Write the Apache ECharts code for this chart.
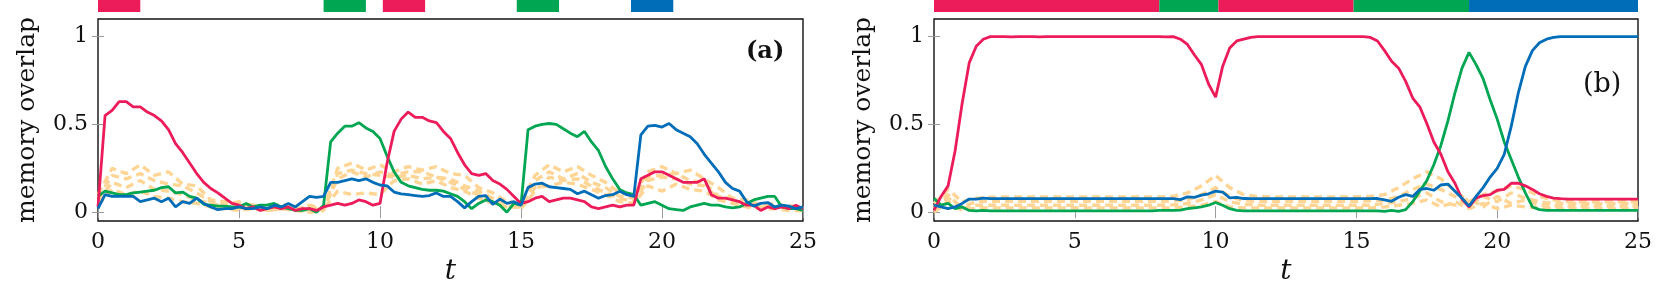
<!DOCTYPE html>
<html>
<head>
<meta charset="utf-8">
<script src="https://cdn.jsdelivr.net/npm/echarts@6/dist/echarts.min.js"></script>
<style>html,body{margin:0;padding:0;background:#fff}#c{width:1661px;height:295px}</style>
</head>
<body>
<div id="c"></div>
<script>
// ---------- data ----------
const X_TICKS = [0, 5, 10, 15, 20, 25];
const Y_TICKS = [0, 0.5, 1];
// time grid for main lines (step 0.25) and for the light dashed lines (step 0.5)
const T_MAIN = Array.from({length: 101}, (_, i) => i * 0.25);
const T_DASH = Array.from({length: 51}, (_, i) => i * 0.5);

// panel (a)
const A_RED = [
  0.03,0.55,0.58,0.63,0.63,0.60,0.60,0.57,0.55,0.52,
  0.47,0.39,0.34,0.28,0.22,0.17,0.135,0.11,0.08,0.05,
  0.04,0.02,0.03,0.01,0.02,0.03,0.02,0.03,0.01,0.02,
  0.02,0.01,0.03,0.04,0.05,0.04,0.05,0.07,0.06,0.04,
  0.05,0.28,0.46,0.53,0.57,0.54,0.54,0.52,0.51,0.46,
  0.42,0.34,0.27,0.22,0.21,0.22,0.18,0.16,0.13,0.09,
  0.05,0.06,0.08,0.09,0.06,0.07,0.08,0.08,0.07,0.06,
  0.03,0.02,0.03,0.04,0.03,0.04,0.04,0.19,0.21,0.23,
  0.23,0.21,0.19,0.17,0.17,0.17,0.19,0.10,0.08,0.08,
  0.07,0.06,0.04,0.04,0.01,0.03,0.02,0.03,0.02,0.04,
  0.02];
const A_GREEN = [
  0.09,0.12,0.11,0.10,0.10,0.11,0.115,0.12,0.125,0.14,
  0.145,0.11,0.115,0.09,0.08,0.045,0.04,0.035,0.035,0.03,
  0.03,0.05,0.03,0.04,0.04,0.05,0.03,0.02,0.01,0.01,
  0.02,0.0,0.04,0.40,0.45,0.49,0.49,0.51,0.48,0.46,
  0.42,0.32,0.23,0.17,0.15,0.14,0.13,0.125,0.125,0.12,
  0.105,0.09,0.06,0.02,0.05,0.07,0.06,0.04,0.0,0.05,
  0.04,0.47,0.49,0.50,0.505,0.50,0.475,0.45,0.43,0.46,
  0.40,0.35,0.26,0.19,0.13,0.11,0.10,0.04,0.05,0.06,
  0.04,0.02,0.015,0.01,0.03,0.04,0.05,0.04,0.04,0.03,
  0.025,0.03,0.05,0.07,0.08,0.09,0.09,0.03,0.02,0.02,
  0.01];
const A_BLUE = [
  0.02,0.10,0.09,0.09,0.09,0.09,0.06,0.07,0.08,0.06,
  0.08,0.03,0.06,0.05,0.08,0.05,0.03,0.015,0.02,0.02,
  0.03,0.02,0.02,0.03,0.02,0.04,0.03,0.05,0.03,0.06,
  0.09,0.085,0.09,0.17,0.17,0.18,0.19,0.18,0.19,0.17,
  0.155,0.15,0.115,0.105,0.10,0.095,0.09,0.095,0.11,0.09,
  0.09,0.06,0.025,0.06,0.09,0.095,0.045,0.075,0.05,0.06,
  0.04,0.14,0.16,0.165,0.145,0.14,0.135,0.13,0.105,0.12,
  0.10,0.08,0.095,0.10,0.12,0.10,0.09,0.44,0.49,0.495,
  0.485,0.505,0.47,0.45,0.43,0.39,0.33,0.28,0.23,0.17,
  0.135,0.12,0.06,0.035,0.05,0.055,0.03,0.04,0.035,0.02,
  0.03];
const A_DASH1 = [
  0.10,0.25,0.22,0.27,0.21,0.23,0.16,0.15,0.07,0.06,
  0.05,0.04,0.02,0.05,0.02,0.03,0.02,0.25,0.28,0.24,
  0.27,0.23,0.26,0.24,0.26,0.22,0.21,0.14,0.11,0.06,
  0.05,0.21,0.27,0.23,0.26,0.21,0.17,0.11,0.10,0.23,
  0.26,0.22,0.24,0.19,0.14,0.08,0.07,0.04,0.05,0.03,
  0.03];
const A_DASH2 = [
  0.08,0.21,0.19,0.22,0.18,0.16,0.15,0.11,0.06,0.04,
  0.06,0.02,0.04,0.03,0.01,0.04,0.02,0.19,0.23,0.20,
  0.23,0.21,0.23,0.23,0.20,0.19,0.15,0.12,0.08,0.05,
  0.04,0.18,0.23,0.19,0.22,0.17,0.14,0.09,0.08,0.20,
  0.21,0.22,0.18,0.17,0.09,0.08,0.04,0.04,0.03,0.04,
  0.02];
const A_DASH3 = [
  0.06,0.17,0.14,0.18,0.13,0.12,0.10,0.07,0.05,0.03,
  0.02,0.04,0.01,0.02,0.02,0.01,0.02,0.12,0.10,0.11,
  0.10,0.18,0.19,0.16,0.18,0.14,0.12,0.08,0.05,0.03,
  0.03,0.14,0.15,0.17,0.16,0.13,0.10,0.06,0.05,0.15,
  0.12,0.16,0.13,0.12,0.07,0.05,0.03,0.02,0.02,0.01,
  0.01];
const A_DASH4 = [
  0.04,0.13,0.10,0.12,0.09,0.08,0.06,0.05,0.03,0.02,
  0.01,0.02,0.01,0.02,0.01,0.00,0.01,0.22,0.24,0.22,
  0.21,0.20,0.21,0.19,0.20,0.17,0.13,0.10,0.06,0.04,
  0.02,0.12,0.20,0.18,0.19,0.15,0.11,0.08,0.06,0.18,
  0.20,0.19,0.16,0.15,0.08,0.06,0.04,0.03,0.03,0.02,
  0.02];
// stimulus bars on top of panel (a): [start, end, colour index]
const A_BARS = [[0,1.5,0],[8,9.5,1],[10.1,11.6,0],[14.85,16.35,1],[18.9,20.4,2]];

// panel (b)
const B_RED = [
  0.01,0.09,0.15,0.35,0.62,0.85,0.945,0.985,1.0,1.0,
  1.0,0.998,1.0,1.0,1.0,0.998,1.0,1.0,1.0,1.0,
  1.0,1.0,1.0,1.0,1.0,1.0,1.0,1.0,1.0,1.0,
  1.0,1.0,1.0,0.998,1.0,0.985,0.955,0.895,0.84,0.73,
  0.655,0.83,0.935,0.975,0.985,0.995,1.0,1.0,1.0,1.0,
  1.0,1.0,1.0,1.0,1.0,1.0,1.0,1.0,1.0,1.0,
  1.0,1.0,0.995,0.975,0.92,0.86,0.82,0.745,0.65,0.60,
  0.505,0.40,0.33,0.23,0.165,0.075,0.03,0.08,0.095,0.10,
  0.125,0.13,0.165,0.165,0.15,0.13,0.105,0.09,0.08,0.077,
  0.075,0.075,0.075,0.075,0.075,0.075,0.075,0.075,0.075,0.075,
  0.075];
const B_GREEN = [
  0.08,0.04,0.05,0.02,0.03,0.01,0.008,0.01,0.008,0.008,
  0.008,0.008,0.008,0.008,0.008,0.008,0.008,0.008,0.008,0.008,
  0.008,0.008,0.008,0.008,0.008,0.008,0.008,0.008,0.008,0.008,
  0.008,0.008,0.01,0.01,0.01,0.012,0.02,0.025,0.03,0.04,
  0.055,0.04,0.02,0.01,0.008,0.008,0.008,0.008,0.008,0.008,
  0.008,0.008,0.008,0.008,0.008,0.008,0.008,0.008,0.008,0.008,
  0.008,0.008,0.008,0.008,0.005,0.01,0.005,0.015,0.06,0.12,
  0.18,0.27,0.38,0.52,0.68,0.82,0.91,0.84,0.76,0.64,
  0.53,0.40,0.30,0.20,0.11,0.03,0.015,0.01,0.01,0.01,
  0.01,0.01,0.01,0.01,0.01,0.01,0.01,0.01,0.01,0.01,
  0.01];
const B_BLUE = [
  0.04,0.03,0.02,0.03,0.05,0.075,0.075,0.08,0.077,0.077,
  0.077,0.077,0.077,0.077,0.077,0.077,0.077,0.077,0.077,0.077,
  0.077,0.077,0.077,0.077,0.077,0.077,0.077,0.077,0.077,0.077,
  0.077,0.077,0.077,0.077,0.077,0.072,0.087,0.085,0.097,0.105,
  0.12,0.115,0.082,0.085,0.078,0.077,0.077,0.077,0.077,0.077,
  0.077,0.077,0.077,0.077,0.077,0.077,0.077,0.077,0.077,0.077,
  0.077,0.077,0.077,0.078,0.07,0.062,0.085,0.10,0.09,0.13,
  0.135,0.125,0.155,0.16,0.12,0.08,0.035,0.09,0.14,0.20,
  0.25,0.33,0.49,0.68,0.83,0.92,0.965,0.985,0.995,1.0,
  1.0,1.0,1.0,1.0,1.0,1.0,1.0,1.0,1.0,1.0,
  1.0];
const B_DASH1 = [
  0.05,0.13,0.06,0.08,0.085,0.087,0.087,0.087,0.087,0.087,
  0.087,0.087,0.087,0.087,0.087,0.087,0.087,0.09,0.11,0.15,
  0.21,0.14,0.10,0.09,0.087,0.087,0.087,0.087,0.087,0.087,
  0.088,0.09,0.10,0.14,0.19,0.23,0.19,0.12,0.06,0.10,
  0.12,0.15,0.13,0.09,0.07,0.06,0.06,0.06,0.06,0.06,
  0.06];
const B_DASH2 = [
  0.02,0.08,0.03,0.06,0.062,0.062,0.062,0.062,0.062,0.062,
  0.062,0.062,0.062,0.062,0.062,0.062,0.062,0.065,0.07,0.10,
  0.14,0.09,0.065,0.062,0.062,0.062,0.062,0.062,0.062,0.062,
  0.062,0.065,0.07,0.09,0.13,0.16,0.13,0.09,0.04,0.09,
  0.06,0.11,0.08,0.06,0.05,0.05,0.05,0.05,0.05,0.05,
  0.05];
const B_DASH3 = [
  0.03,0.10,0.02,0.04,0.04,0.04,0.04,0.04,0.04,0.04,
  0.04,0.04,0.04,0.04,0.04,0.04,0.04,0.042,0.05,0.07,
  0.10,0.06,0.045,0.04,0.04,0.04,0.04,0.04,0.04,0.04,
  0.04,0.04,0.05,0.06,0.08,0.11,0.06,0.04,0.08,0.03,
  0.09,0.05,0.07,0.04,0.035,0.035,0.035,0.035,0.035,0.035,
  0.035];
const B_DASH4 = [
  0.0,0.06,0.01,0.025,0.025,0.025,0.025,0.025,0.025,0.025,
  0.025,0.025,0.025,0.025,0.025,0.025,0.025,0.025,0.03,0.04,
  0.06,0.03,0.025,0.025,0.025,0.025,0.025,0.025,0.025,0.025,
  0.025,0.025,0.03,0.04,0.05,0.07,0.03,0.06,0.02,0.05,
  0.02,0.04,0.03,0.025,0.02,0.02,0.02,0.02,0.02,0.02,
  0.02];
const B_BARS = [[0,8,0],[8,10.1,1],[10.1,14.9,0],[14.9,19,1],[19,25,2]];

// ---------- style ----------
const RED = '#EC1B5A', GREEN = '#00A651', BLUE = '#006DB8', ORANGE = '#FFD595';
const BAR_COLORS = [RED, GREEN, BLUE];
const SERIF = 'DejaVu Serif';

const chart = echarts.init(document.getElementById('c'), null, {renderer: 'canvas'});

const zip = (T, V) => T.map((t, i) => [t, V[i]]);

function plotAxes(gi) {
  const tickStyle = {show: true, inside: true, length: 6, lineStyle: {color: '#9a9a9a', width: 1}};
  const xs = [
    {gridIndex: gi, type: 'value', min: 0, max: 25, interval: 5, position: 'bottom',
     axisLine: {show: false}, splitLine: {show: false},
     axisTick: tickStyle,
     axisLabel: {margin: 10, fontFamily: SERIF, fontSize: 22, color: '#111'},
     name: 't', nameLocation: 'middle', nameGap: 35,
     nameTextStyle: {fontFamily: SERIF, fontStyle: 'italic', fontSize: 28, color: '#111'}},
    {gridIndex: gi, type: 'value', min: 0, max: 25, interval: 5, position: 'top',
     axisLine: {show: false}, splitLine: {show: false}, axisTick: tickStyle, axisLabel: {show: false}}
  ];
  const ys = [
    {gridIndex: gi, type: 'value', min: -0.05, max: 1.1, position: 'left',
     axisLine: {show: false}, splitLine: {show: false},
     axisTick: Object.assign({customValues: Y_TICKS}, tickStyle),
     axisLabel: {customValues: Y_TICKS, margin: 10, fontFamily: SERIF, fontSize: 22, color: '#111'},
     name: 'memory overlap', nameLocation: 'middle', nameGap: 58, nameRotate: 90,
     nameTextStyle: {fontFamily: SERIF, fontSize: 25, color: '#111'}},
    {gridIndex: gi, type: 'value', min: -0.05, max: 1.1, position: 'right',
     axisLine: {show: false}, splitLine: {show: false},
     axisTick: Object.assign({customValues: Y_TICKS}, tickStyle), axisLabel: {show: false}}
  ];
  return {xs, ys};
}

const grids = [
  {left: 98, width: 705, top: 0, height: 12},
  {left: 98, width: 705, top: 19, height: 202, show: true, borderColor: '#111', borderWidth: 1.4, backgroundColor: 'transparent'},
  {left: 934, width: 704, top: 0, height: 12},
  {left: 934, width: 704, top: 19, height: 202, show: true, borderColor: '#111', borderWidth: 1.4, backgroundColor: 'transparent'}
];

const xAxis = [], yAxis = [];
function stripAxes(gi) {
  xAxis.push({gridIndex: gi, type: 'value', min: 0, max: 25, show: false});
  yAxis.push({gridIndex: gi, type: 'value', min: 0, max: 1, show: false});
}
stripAxes(0);                       // x0, y0
let pa = plotAxes(1);               // x1,x2 / y1,y2
xAxis.push(...pa.xs); yAxis.push(...pa.ys);
stripAxes(2);                       // x3, y3
let pb = plotAxes(3);               // x4,x5 / y4,y5
xAxis.push(...pb.xs); yAxis.push(...pb.ys);

function barSeries(xi, yi, data) {
  return {
    type: 'custom', xAxisIndex: xi, yAxisIndex: yi, data: data, silent: true,
    encode: {x: [0, 1], y: 2},
    renderItem: (params, api) => {
      const a = api.coord([api.value(0), 1]);
      const b = api.coord([api.value(1), 0]);
      return {type: 'rect', shape: {x: a[0], y: a[1], width: b[0] - a[0], height: b[1] - a[1]},
              style: {fill: BAR_COLORS[api.value(2)]}};
    }
  };
}
function line(xi, yi, T, V, color, dashed) {
  return {
    type: 'line', xAxisIndex: xi, yAxisIndex: yi, data: zip(T, V), showSymbol: false, silent: true,
    lineStyle: dashed ? {color, width: 3.4, type: [8, 5]} : {color, width: 2.8},
    z: dashed ? 2 : 3
  };
}

const series = [
  barSeries(0, 0, A_BARS),
  line(1, 1, T_DASH, A_DASH1, ORANGE, true),
  line(1, 1, T_DASH, A_DASH2, ORANGE, true),
  line(1, 1, T_DASH, A_DASH3, ORANGE, true),
  line(1, 1, T_DASH, A_DASH4, ORANGE, true),
  line(1, 1, T_MAIN, A_GREEN, GREEN),
  line(1, 1, T_MAIN, A_RED, RED),
  line(1, 1, T_MAIN, A_BLUE, BLUE),
  barSeries(3, 3, B_BARS),
  line(4, 4, T_DASH, B_DASH1, ORANGE, true),
  line(4, 4, T_DASH, B_DASH2, ORANGE, true),
  line(4, 4, T_DASH, B_DASH3, ORANGE, true),
  line(4, 4, T_DASH, B_DASH4, ORANGE, true),
  line(4, 4, T_MAIN, B_GREEN, GREEN),
  line(4, 4, T_MAIN, B_RED, RED),
  line(4, 4, T_MAIN, B_BLUE, BLUE)
];

chart.setOption({
  animation: false,
  backgroundColor: '#fff',
  title: [
    {text: '(a)', left: 746, top: 40, padding: 0,
     textStyle: {fontFamily: SERIF, fontWeight: 'bold', fontSize: 24, color: '#111'}},
    {text: '(b)', left: 1583, top: 71, padding: 0,
     textStyle: {fontFamily: SERIF, fontWeight: 'normal', fontSize: 27, color: '#111'}}
  ],
  grid: grids,
  xAxis: xAxis,
  yAxis: yAxis,
  series: series
});
</script>
</body>
</html>
